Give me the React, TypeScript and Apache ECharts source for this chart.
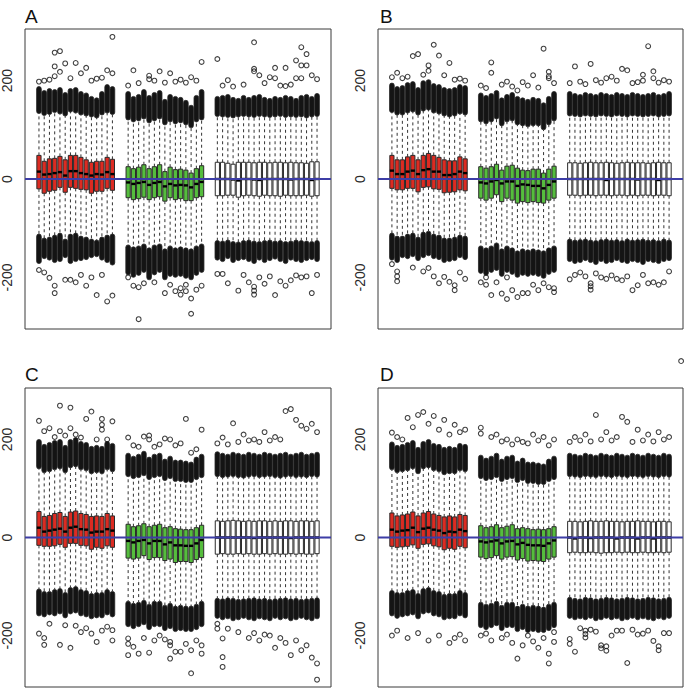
import React, { useEffect, useRef } from "react";
import * as echarts from "echarts";

// box positions: red 1-15, green 18-32, white 35-54
const positions = [
  1, 2, 3, 4, 5, 6, 7, 8, 9, 10, 11, 12, 13, 14, 15,
  18, 19, 20, 21, 22, 23, 24, 25, 26, 27, 28, 29, 30, 31, 32,
  35, 36, 37, 38, 39, 40, 41, 42, 43, 44, 45, 46, 47, 48, 49, 50, 51, 52, 53, 54,
];
const groupSizes = [15, 15, 20];
const groupColors = ["#dc2b22", "#55bd3d", "#ffffff"];
const panelLabels = ["A", "B", "C", "D"];
const yTicks = [-200, 0, 200];
const refLine = [0];

// ---------- Panel A ----------
const A_q3 = [48,36,41,42,46,39,48,48,44,39,34,36,36,44,40, 25,21,24,29,21,25,29,15,24,19,20,18,12,21,27, 34,34,32,30,34,34,34,33,34,34,33,34,34,33,34,33,33,32,35,35];
const A_med = [15,9,10,12,14,7,16,16,12,10,7,10,9,14,10, -7,-10,-8,-6,-12,-8,-6,-15,-10,-13,-12,-13,-17,-10,-6, 0,0,0,-1,-3,0,0,-1,-2,0,0,0,0,0,-1,0,0,0,-2,0];
const A_q1 = [-20,-29,-25,-23,-17,-27,-17,-19,-21,-22,-29,-25,-25,-19,-23, -38,-42,-40,-37,-42,-38,-36,-45,-38,-42,-40,-44,-44,-38,-36, -34,-34,-33,-33,-37,-34,-33,-34,-35,-33,-34,-34,-35,-33,-34,-34,-34,-33,-35,-34];
const A_whiHi = [133,129,131,135,132,128,136,134,130,128,126,124,130,134,131, 120,116,118,122,114,118,122,110,116,112,114,110,104,116,120, 127,126,125,124,126,127,126,125,127,126,125,126,127,125,126,125,126,124,126,127];
const A_denseHi = [188,180,184,182,186,176,184,186,178,175,168,165,178,192,188, 178,168,172,182,170,176,180,162,172,168,166,160,150,170,182, 168,170,172,166,164,170,166,170,172,166,164,168,166,170,168,164,170,172,168,174];
const A_whiLo = [-112,-120,-118,-114,-110,-122,-112,-110,-116,-118,-122,-124,-118,-114,-112, -134,-138,-136,-132,-140,-134,-132,-142,-136,-140,-138,-140,-142,-136,-132, -125,-126,-124,-127,-128,-125,-124,-126,-127,-125,-124,-126,-125,-127,-126,-124,-125,-126,-127,-125];
const A_denseLo = [-172,-162,-165,-170,-168,-160,-172,-168,-166,-164,-160,-158,-165,-170,-175, -195,-200,-196,-190,-205,-195,-190,-205,-198,-200,-198,-202,-205,-196,-190, -165,-168,-162,-170,-166,-164,-168,-172,-165,-170,-166,-163,-168,-172,-165,-168,-170,-166,-164,-168];
const A_out = [
  [15,289],[4,257],[5,260],[4,229],[6,235],[8,236],[10,226],[14,221],[3,202],[4,209],[5,218],[9,215],[13,206],[12,204],[15,215],[1,198],[2,200],[7,205],[11,200],
  [4,-232],[4,-217],[12,-236],[14,-249],[15,-237],[10,-217],[3,-201],[2,-190],[6,-205],[7,-205],[8,-210],[1,-185],[9,-195],[11,-200],[13,-195],
  [19,221],[24,219],[22,210],[22,203],[26,215],[30,207],[32,238],[31,200],[27,198],[28,202],[29,196],[18,190],[20,195],[23,200],[25,196],
  [20,-285],[30,-274],[25,-232],[30,-243],[32,-217],[28,-222],[29,-228],[29,-215],[19,-217],[20,-220],[18,-200],[21,-212],[23,-210],[26,-215],[31,-225],[27,-228],[28,-235],
  [42,278],[35,244],[51,268],[52,254],[50,241],[51,231],[52,231],[46,226],[48,226],[42,224],[42,219],[43,211],[45,207],[46,205],[48,189],[50,205],[51,205],[53,211],[54,203],[37,201],[36,190],[38,188],[40,192],[44,195],[47,190],[49,192],
  [37,-212],[39,-227],[41,-210],[42,-219],[42,-227],[42,-235],[44,-213],[46,-236],[47,-208],[48,-217],[49,-206],[53,-232],[35,-193],[36,-193],[40,-195],[43,-200],[45,-198],[50,-196],[51,-200],[52,-198],[54,-195],
];

// ---------- Panel B ----------
const B_q3 = [48,39,39,45,48,39,48,52,48,44,39,37,37,45,41, 25,22,25,30,18,26,28,22,18,17,20,20,12,20,26, 33,33,32,33,34,33,33,34,33,32,33,34,33,33,33,32,33,34,33,33];
const B_med = [17,10,10,15,17,10,18,20,15,15,8,8,10,15,12, -7,-9,-5,-2,-9,-5,-5,-14,-11,-12,-14,-14,-19,-12,-5, 0,0,0,0,0,0,0,-2,0,0,0,0,0,-1,0,0,0,-2,0,0];
const B_q1 = [-19,-22,-22,-19,-19,-26,-17,-16,-20,-21,-28,-27,-26,-22,-24, -39,-43,-39,-32,-46,-39,-43,-49,-46,-48,-46,-48,-49,-43,-39, -33,-33,-34,-33,-33,-34,-33,-33,-34,-33,-33,-34,-33,-34,-33,-33,-34,-33,-33,-34];
const B_whiHi = [135,130,130,134,136,130,138,140,134,132,128,126,128,132,130, 116,112,116,122,108,116,118,110,108,106,108,108,100,110,118, 128,127,126,128,127,126,128,127,126,128,127,126,128,127,126,127,128,126,127,128];
const B_denseHi = [195,188,190,196,198,186,200,202,194,192,186,184,186,192,190, 175,170,174,180,165,172,176,168,165,162,166,164,155,168,178, 178,174,172,176,174,172,176,174,172,176,174,172,176,174,172,174,176,172,174,178];
const B_whiLo = [-110,-116,-116,-112,-110,-118,-108,-106,-112,-114,-120,-120,-118,-114,-116, -136,-140,-136,-130,-142,-136,-140,-146,-142,-144,-142,-144,-146,-140,-136, -122,-124,-123,-122,-124,-125,-123,-122,-124,-123,-125,-122,-124,-123,-122,-124,-123,-125,-122,-124];
const B_denseLo = [-165,-170,-160,-162,-158,-166,-160,-156,-162,-164,-170,-168,-166,-160,-164, -192,-196,-190,-186,-198,-190,-194,-200,-196,-198,-196,-198,-202,-194,-190, -168,-172,-170,-166,-170,-174,-168,-172,-170,-166,-170,-172,-168,-170,-174,-168,-170,-172,-168,-166];
const B_out = [
  [9,273],[5,250],[6,254],[10,251],[12,236],[8,231],[8,220],[11,211],[2,216],[1,207],[13,202],[3,205],[4,208],[7,212],[14,204],[15,200],
  [2,-188],[2,-198],[2,-208],[1,-173],[7,-188],[8,-181],[10,-212],[9,-198],[12,-209],[13,-216],[13,-226],[11,-199],[15,-203],[5,-180],[14,-190],
  [20,237],[20,216],[30,265],[28,211],[31,218],[31,209],[31,205],[26,197],[23,198],[25,180],[18,190],[19,185],[22,192],[24,188],[27,190],[29,186],[32,195],
  [19,-215],[20,-236],[22,-233],[23,-244],[25,-240],[24,-226],[26,-232],[27,-232],[29,-226],[32,-222],[32,-230],[18,-210],[19,-200],[23,-200],[21,-210],[28,-215],[30,-212],[31,-220],
  [36,229],[39,234],[50,270],[45,224],[46,221],[40,201],[42,205],[43,208],[49,212],[51,219],[51,205],[49,200],[53,201],[35,195],[37,198],[38,193],[41,196],[44,200],[47,195],[48,197],[52,196],[54,198],
  [35,-204],[39,-212],[39,-218],[39,-225],[41,-200],[42,-203],[44,-203],[45,-206],[47,-226],[48,-216],[50,-212],[51,-210],[52,-215],[53,-210],[54,-188],[46,-198],[36,-195],[37,-190],[38,-198],[40,-192],[43,-196],[49,-195],
];

// ---------- Panel C ----------
const C_q3 = [53,43,45,49,51,43,52,54,49,47,43,44,43,49,44, 27,22,24,28,22,25,27,20,22,18,17,16,16,20,25, 34,33,34,35,34,33,34,33,34,34,33,34,33,34,34,33,34,34,33,34];
const C_med = [20,12,14,16,18,12,20,22,17,16,10,12,12,17,14, -7,-10,-7,-5,-12,-7,-7,-14,-10,-16,-16,-17,-17,-12,-5, 0,0,0,0,0,0,0,-1,0,0,0,0,0,0,-1,0,0,0,0,0];
const C_q1 = [-16,-18,-18,-17,-14,-20,-12,-12,-16,-17,-24,-20,-22,-17,-20, -42,-44,-42,-37,-45,-41,-41,-47,-44,-51,-49,-49,-51,-45,-41, -34,-33,-34,-34,-33,-34,-33,-34,-34,-33,-34,-33,-34,-34,-33,-34,-33,-34,-34,-33];
const C_whiHi = [140,132,134,138,140,132,142,144,138,136,130,132,130,138,134, 124,120,122,126,118,122,124,116,120,114,114,112,112,118,122, 124,122,123,124,122,121,123,124,122,123,124,122,121,123,124,122,123,122,124,123];
const C_denseHi = [200,190,194,198,200,188,200,204,196,194,186,188,186,196,192, 172,166,170,176,164,170,172,160,166,158,158,156,154,164,170, 175,172,170,174,172,170,174,172,170,174,172,170,172,174,170,172,174,170,172,174];
const C_whiLo = [-105,-110,-110,-106,-104,-112,-102,-100,-106,-108,-114,-112,-112,-106,-110, -130,-134,-132,-128,-136,-130,-130,-138,-134,-140,-138,-140,-140,-136,-130, -124,-125,-123,-124,-126,-125,-124,-123,-125,-124,-126,-125,-124,-123,-125,-124,-126,-125,-124,-123];
const C_denseLo = [-160,-162,-158,-160,-156,-164,-156,-154,-160,-162,-166,-164,-164,-158,-162, -182,-186,-182,-178,-188,-182,-182,-190,-186,-192,-190,-192,-192,-188,-182, -165,-168,-166,-170,-168,-165,-168,-170,-166,-168,-170,-165,-168,-166,-170,-168,-165,-168,-170,-166];
const C_out = [
  [5,269],[7,265],[11,257],[10,242],[13,242],[13,230],[13,220],[15,237],[1,238],[2,217],[3,223],[5,217],[7,223],[12,200],[14,200],[4,205],[6,208],[8,210],[9,204],
  [5,-219],[7,-225],[12,-213],[15,-210],[1,-196],[2,-205],[2,-219],[11,-196],[15,-189],[3,-176],[6,-179],[8,-180],[9,-193],[10,-185],[13,-190],[14,-182],
  [18,204],[29,242],[32,220],[21,206],[22,208],[22,200],[25,202],[26,200],[27,188],[19,188],[20,185],[30,173],[31,180],[23,185],[24,190],[28,192],
  [18,-240],[20,-237],[22,-235],[26,-247],[27,-233],[28,-233],[30,-277],[30,-230],[32,-237],[32,-220],[26,-213],[26,-220],[18,-206],[18,-217],[19,-223],[24,-200],[29,-217],[31,-210],[21,-205],[23,-210],[25,-208],
  [36,204],[38,233],[40,210],[42,200],[44,215],[46,205],[48,258],[49,262],[50,240],[51,228],[52,222],[53,232],[54,215],[45,198],[47,200],[43,195],[39,195],[41,198],[35,192],[37,190],
  [35,-176],[35,-186],[36,-206],[36,-244],[36,-264],[37,-186],[39,-193],[41,-205],[43,-210],[44,-198],[46,-225],[47,-205],[48,-215],[49,-240],[50,-210],[51,-230],[52,-220],[53,-245],[54,-257],[54,-290],[45,-200],[42,-195],
];

// ---------- Panel D ----------
const D_q3 = [50,44,46,48,52,44,50,53,48,45,42,44,42,47,45, 24,20,22,26,20,23,26,18,20,18,16,17,16,18,22, 33,33,32,33,34,33,33,34,33,33,32,33,33,34,33,33,32,33,33,32];
const D_med = [16,12,14,15,20,11,18,20,16,14,9,12,11,16,13, -8,-10,-8,-6,-12,-8,-7,-14,-11,-15,-16,-16,-17,-12,-6, 0,-2,0,0,-1,0,0,0,0,-2,0,0,0,-2,0,0,-2,0,0,0];
const D_q1 = [-18,-20,-19,-18,-15,-22,-14,-13,-17,-19,-25,-22,-24,-18,-21, -40,-43,-41,-37,-44,-40,-39,-46,-43,-48,-47,-48,-49,-44,-40, -31,-30,-31,-31,-30,-31,-32,-31,-31,-30,-31,-30,-31,-31,-30,-31,-31,-30,-31,-30];
const D_whiHi = [138,132,134,136,140,130,140,142,136,134,128,130,130,136,134, 120,116,118,122,114,118,120,112,116,110,110,108,108,114,118, 124,123,122,124,123,122,124,123,122,124,123,122,124,123,122,124,123,122,124,123];
const D_denseHi = [195,188,190,194,198,184,196,200,192,190,184,186,184,192,190, 168,162,166,172,160,166,168,156,162,154,154,152,150,160,166, 172,170,168,172,170,168,172,170,168,172,170,168,172,170,168,172,170,168,172,170];
const D_whiLo = [-108,-112,-112,-108,-106,-114,-104,-102,-108,-110,-116,-114,-114,-108,-112, -132,-136,-134,-130,-138,-132,-132,-140,-136,-140,-138,-140,-142,-136,-132, -122,-124,-125,-122,-123,-125,-124,-122,-123,-125,-124,-122,-123,-125,-124,-122,-123,-125,-124,-122];
const D_denseLo = [-160,-165,-162,-160,-158,-166,-156,-154,-160,-162,-168,-166,-166,-160,-164, -184,-188,-184,-180,-190,-184,-184,-192,-188,-194,-192,-194,-194,-190,-184, -165,-168,-166,-168,-165,-170,-168,-165,-168,-166,-170,-168,-165,-168,-166,-168,-170,-166,-168,-165];
const D_out = [
  [1,214],[2,205],[4,244],[5,225],[6,250],[7,256],[8,232],[9,248],[10,220],[11,240],[12,210],[13,230],[14,215],[15,220],[3,200],
  [1,-200],[2,-190],[4,-205],[6,-195],[8,-210],[10,-200],[12,-215],[13,-205],[14,-198],[15,-210],
  [18,224],[18,212],[20,205],[21,210],[23,200],[25,200],[26,195],[28,210],[29,198],[30,205],[32,200],[24,190],[27,192],[31,188],[22,196],
  [25,-247],[31,-257],[32,-193],[32,-213],[31,-237],[18,-200],[20,-210],[22,-205],[24,-215],[26,-220],[28,-212],[29,-225],[30,-205],[19,-196],[23,-198],[27,-200],
  [40,250],[45,246],[46,236],[36,205],[38,210],[42,215],[44,205],[48,220],[50,210],[52,215],[53,200],[54,205],[35,195],[37,198],[39,196],[41,200],[43,198],[47,195],[49,198],[51,196],[56.3,360],
  [35,-207],[35,-217],[36,-233],[38,-190],[38,-197],[38,-204],[41,-220],[41,-226],[42,-231],[42,-222],[46,-256],[51,-211],[52,-222],[52,-230],[53,-195],[54,-195],[45,-190],[43,-200],[48,-198],[49,-196],[37,-185],[39,-188],[40,-192],[44,-190],[47,-188],[50,-190],
];

const panels = [
  { q1: A_q1, med: A_med, q3: A_q3, wlo: A_whiLo, whi: A_whiHi, dlo: A_denseLo, dhi: A_denseHi, out: A_out },
  { q1: B_q1, med: B_med, q3: B_q3, wlo: B_whiLo, whi: B_whiHi, dlo: B_denseLo, dhi: B_denseHi, out: B_out },
  { q1: C_q1, med: C_med, q3: C_q3, wlo: C_whiLo, whi: C_whiHi, dlo: C_denseLo, dhi: C_denseHi, out: C_out },
  { q1: D_q1, med: D_med, q3: D_q3, wlo: D_whiLo, whi: D_whiHi, dlo: D_denseLo, dhi: D_denseHi, out: D_out },
];

const X_MIN = 0.5 - 0.04 * 54;
const X_MAX = 54.5 + 0.04 * 54;

const gridRects = [
  { left: 25, top: 29, width: 306, height: 300 },
  { left: 378, top: 29, width: 305, height: 300 },
  { left: 25, top: 388, width: 306, height: 299 },
  { left: 378, top: 388, width: 305, height: 299 },
];
const labelPos = [
  { left: 20, top: 2 },
  { left: 375, top: 2 },
  { left: 20, top: 360 },
  { left: 375, top: 360 },
];

function groupIndex(i: number) {
  let acc = 0;
  for (let g = 0; g < groupSizes.length; g++) {
    acc += groupSizes[g];
    if (i < acc) return g;
  }
  return groupSizes.length - 1;
}

function renderBox(params: any, api: any) {
  const x = api.value(0);
  const q1 = api.value(1), med = api.value(2), q3 = api.value(3);
  const wlo = api.value(4), whi = api.value(5), dlo = api.value(6), dhi = api.value(7);
  const grp = api.value(8);
  const unit = api.size([1, 0])[0];
  const bw = unit * 0.8;
  const dw = 4.7;
  const c3 = api.coord([x, q3]);
  const cx = c3[0];
  const yq3 = c3[1];
  const yq1 = api.coord([x, q1])[1];
  const ymed = api.coord([x, med])[1];
  const ywlo = api.coord([x, wlo])[1];
  const ywhi = api.coord([x, whi])[1];
  const ydlo = api.coord([x, dlo])[1];
  const ydhi = api.coord([x, dhi])[1];
  const dash = { stroke: "#333", lineWidth: 1, lineDash: [3, 3] };
  const bandStyle = { fill: "#141414", stroke: "#262626", lineWidth: 0.8 };
  return {
    type: "group",
    children: [
      { type: "line", shape: { x1: cx, y1: yq3, x2: cx, y2: ywhi }, style: dash },
      { type: "line", shape: { x1: cx, y1: yq1, x2: cx, y2: ywlo }, style: dash },
      { type: "rect", shape: { x: cx - dw / 2, y: ydhi, width: dw, height: ywhi - ydhi, r: dw / 2 }, style: bandStyle },
      { type: "rect", shape: { x: cx - dw / 2, y: ywlo, width: dw, height: ydlo - ywlo, r: dw / 2 }, style: bandStyle },
      { type: "rect", shape: { x: cx - bw / 2, y: yq3, width: bw, height: yq1 - yq3 }, style: { fill: groupColors[grp], stroke: "#2a2a2a", lineWidth: 1 } },
      { type: "line", shape: { x1: cx - bw / 2, y1: ymed, x2: cx + bw / 2, y2: ymed }, style: { stroke: "#000", lineWidth: 2.4 } },
    ],
  };
}

export default function App() {
  const ref = useRef<HTMLDivElement>(null);
  useEffect(() => {
    if (!ref.current) return;
    const chart = echarts.init(ref.current, null, { renderer: "svg" });
    const series: any[] = [];
    panels.forEach((p, k) => {
      const data = positions.map((pos, i) => [pos, p.q1[i], p.med[i], p.q3[i], p.wlo[i], p.whi[i], p.dlo[i], p.dhi[i], groupIndex(i)]);
      series.push({
        type: "custom",
        xAxisIndex: k,
        yAxisIndex: k,
        renderItem: renderBox,
        encode: { x: 0, y: [1, 2, 3, 4, 5, 6, 7] },
        data,
        z: 2,
        silent: true,
      });
      series.push({
        type: "scatter",
        xAxisIndex: k,
        yAxisIndex: k,
        data: p.out,
        symbol: "circle",
        symbolSize: 4.8,
        clip: false,
        itemStyle: { color: "rgba(255,255,255,0)", borderColor: "#111", borderWidth: 1.1 },
        z: 3,
        silent: true,
      });
      series.push({
        type: "line",
        xAxisIndex: k,
        yAxisIndex: k,
        data: [[X_MIN, refLine[0]], [X_MAX, refLine[0]]],
        symbol: "none",
        lineStyle: { color: "#3d3da6", width: 2 },
        z: 5,
        silent: true,
      });
    });
    chart.setOption({
      animation: false,
      backgroundColor: "#ffffff",
      title: panelLabels.map((t, k) => ({
        text: t,
        left: labelPos[k].left,
        top: labelPos[k].top,
        textStyle: { fontSize: 19, fontWeight: "normal", color: "#111", fontFamily: "Liberation Sans, Arial, sans-serif" },
      })),
      grid: gridRects.map((g) => ({ ...g, show: true, borderColor: "#3a3a3a", borderWidth: 1, backgroundColor: "transparent" })),
      xAxis: gridRects.map((_, k) => ({
        type: "value",
        gridIndex: k,
        min: X_MIN,
        max: X_MAX,
        show: false,
      })),
      yAxis: gridRects.map((_, k) => ({
        type: "value",
        gridIndex: k,
        min: -305,
        max: 305,
        axisLine: { show: false },
        axisTick: { show: false },
        splitLine: { show: false },
        axisLabel: {
          customValues: yTicks,
          rotate: 90,
          margin: 11,
          fontSize: 14,
          color: "#2a2a2a",
          fontFamily: "Liberation Sans, Arial, sans-serif",
        },
      })),
      series,
    });
    return () => chart.dispose();
  }, []);
  return <div ref={ref} style={{ position: "absolute", left: 0, top: 0, width: 685, height: 688 }} />;
}
